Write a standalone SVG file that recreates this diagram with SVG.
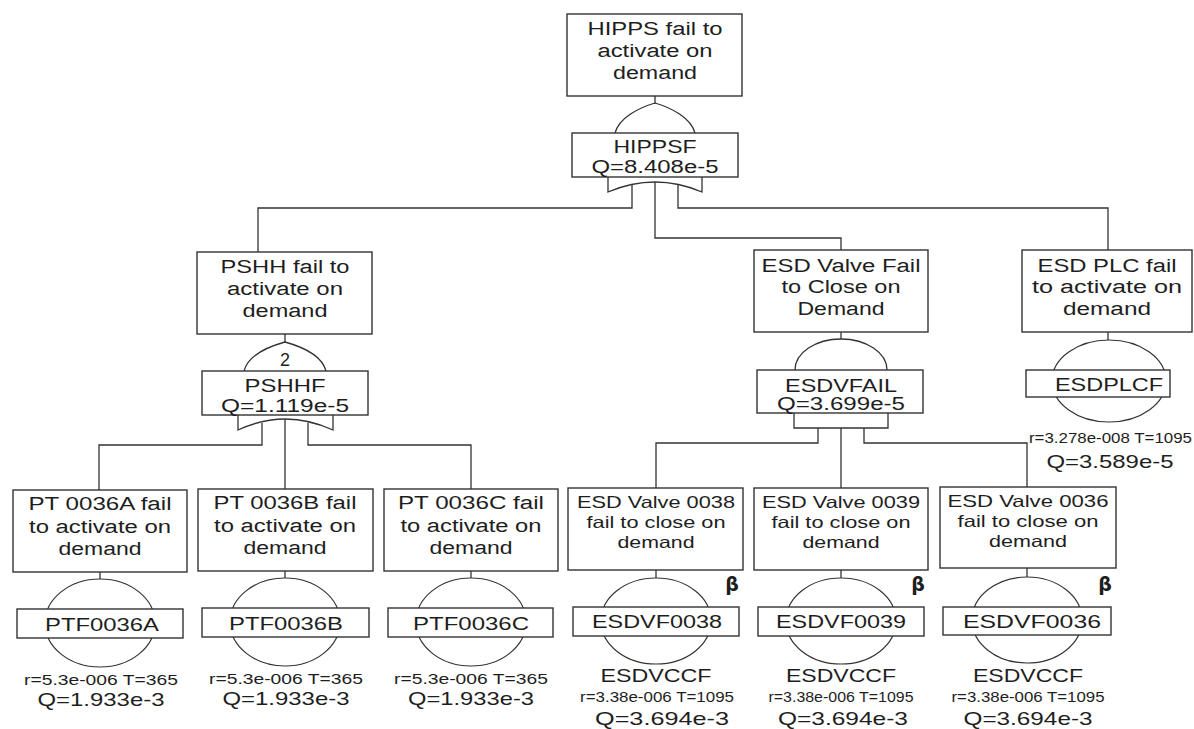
<svg xmlns="http://www.w3.org/2000/svg" width="1194" height="729" viewBox="0 0 1194 729">
<style>
  rect.b { fill: #fff; stroke: #333; stroke-width: 1.4; }
  ellipse.e { fill: #fff; stroke: #333; stroke-width: 1.2; }
  path.g { fill: none; stroke: #333; stroke-width: 1.3; }
  .c path, .c line { fill: none; stroke: #333; stroke-width: 1.3; }
  text { font-family: "Liberation Sans", Arial, sans-serif; fill: #1e1e1e; text-anchor: middle; }
  .t { font-size: 18px; }
  .tv { font-size: 16.5px; }
  .s { font-size: 14px; }
  .q { font-size: 18.5px; }
  .beta { font-size: 19px; font-weight: bold; font-family: "DejaVu Sans", sans-serif; }
</style>
<rect width="1194" height="729" fill="#fff"/>

<g class="c" id="connectors">
  <line x1="655" y1="96" x2="655" y2="104"/>
  <path d="M632,185 V208 H258 V252"/>
  <path d="M655,182 V238 H841 V250"/>
  <path d="M678,185 V208 H1108 V250"/>
  <line x1="285" y1="334" x2="285" y2="342"/>
  <path d="M262,423 V445 H99 V490"/>
  <path d="M285,419 V489"/>
  <path d="M308,423 V445 H471 V489"/>
  <line x1="841" y1="332" x2="841" y2="339"/>
  <path d="M818,428 V443 H656 V488"/>
  <path d="M841,428 V488"/>
  <path d="M864,428 V443 H1027 V487"/>
  <line x1="1108" y1="332" x2="1108" y2="340"/>
  <line x1="100" y1="572" x2="100" y2="579"/>
  <line x1="285" y1="571" x2="285" y2="578"/>
  <line x1="471" y1="571" x2="471" y2="578"/>
  <line x1="656" y1="570" x2="656" y2="578"/>
  <line x1="841" y1="570" x2="841" y2="578"/>
  <line x1="1027" y1="568" x2="1027" y2="578"/>
</g>

<g id="top">
  <rect class="b" x="567" y="14" width="175" height="82"/>
  <text class="t" x="655" y="35" textLength="135" lengthAdjust="spacingAndGlyphs">HIPPS fail to</text>
  <text class="t" x="655" y="57" textLength="115" lengthAdjust="spacingAndGlyphs">activate on</text>
  <text class="t" x="655" y="79" textLength="84" lengthAdjust="spacingAndGlyphs">demand</text>
</g>

<g id="HIPPSF">
  <path class="g" d="M615,133 C619,118 638,108 655,103 C672,108 691,118 695,133"/>
  <path class="g" d="M608,177 V192 Q655,172 702,192 V177"/>
  <rect class="b" x="572" y="133" width="166" height="44"/>
  <text class="t" x="655" y="153" textLength="83" lengthAdjust="spacingAndGlyphs">HIPPSF</text>
  <text class="t" x="655" y="173" textLength="127" lengthAdjust="spacingAndGlyphs">Q=8.408e-5</text>
</g>

<g id="PSHH">
  <rect class="b" x="197" y="252" width="175" height="82"/>
  <text class="t" x="285" y="273" textLength="129" lengthAdjust="spacingAndGlyphs">PSHH fail to</text>
  <text class="t" x="285" y="295" textLength="116" lengthAdjust="spacingAndGlyphs">activate on</text>
  <text class="t" x="285" y="317" textLength="85" lengthAdjust="spacingAndGlyphs">demand</text>
</g>

<g id="PSHHF">
  <path class="g" d="M244,371 C248,356 267,347 285,342 C303,347 322,356 326,371"/>
  <text class="t" x="285" y="366">2</text>
  <path class="g" d="M238,415 V430 Q285,408 333,430 V415"/>
  <rect class="b" x="202" y="371" width="166" height="44"/>
  <text class="t" x="285" y="392" textLength="81" lengthAdjust="spacingAndGlyphs">PSHHF</text>
  <text class="t" x="285" y="412" textLength="128" lengthAdjust="spacingAndGlyphs">Q=1.119e-5</text>
</g>

<g id="ESDV">
  <rect class="b" x="754" y="250" width="174" height="82"/>
  <text class="t" x="841" y="272" textLength="159" lengthAdjust="spacingAndGlyphs">ESD Valve Fail</text>
  <text class="t" x="841" y="293" textLength="119" lengthAdjust="spacingAndGlyphs">to Close on</text>
  <text class="t" x="841" y="315" textLength="87" lengthAdjust="spacingAndGlyphs">Demand</text>
</g>

<g id="ESDVFAIL">
  <path class="g" d="M795,370 A46,31 0 0 1 887,370"/>
  <path class="g" d="M794,413 V428 H888 V413"/>
  <rect class="b" x="757" y="370" width="166" height="43"/>
  <text class="t" x="841" y="392" textLength="112" lengthAdjust="spacingAndGlyphs">ESDVFAIL</text>
  <text class="t" x="841" y="410" textLength="128" lengthAdjust="spacingAndGlyphs">Q=3.699e-5</text>
</g>

<g id="ESDPLC">
  <rect class="b" x="1022" y="250" width="170" height="82"/>
  <text class="t" x="1107" y="272" textLength="139" lengthAdjust="spacingAndGlyphs">ESD PLC fail</text>
  <text class="t" x="1107" y="293" textLength="150" lengthAdjust="spacingAndGlyphs">to activate on</text>
  <text class="t" x="1107" y="315" textLength="88" lengthAdjust="spacingAndGlyphs">demand</text>
</g>

<g id="ESDPLCF">
  <ellipse class="e" cx="1109" cy="381" rx="57" ry="41"/>
  <rect class="b" x="1026" y="370" width="144" height="27"/>
  <text class="t" x="1109" y="391" textLength="108" lengthAdjust="spacingAndGlyphs">ESDPLCF</text>
  <text class="s" x="1029" y="443" style="text-anchor:start" textLength="163" lengthAdjust="spacingAndGlyphs">r=3.278e-008 T=1095</text>
  <text class="q" x="1110" y="468" textLength="127" lengthAdjust="spacingAndGlyphs">Q=3.589e-5</text>
</g>

<g id="PT0036A">
  <rect class="b" x="13" y="490" width="174" height="82"/>
  <text class="t" x="100" y="510" textLength="143" lengthAdjust="spacingAndGlyphs">PT 0036A fail</text>
  <text class="t" x="100" y="533" textLength="142" lengthAdjust="spacingAndGlyphs">to activate on</text>
  <text class="t" x="100" y="555" textLength="83" lengthAdjust="spacingAndGlyphs">demand</text>
</g>
<g id="PTF0036A">
  <ellipse class="e" cx="100" cy="623" rx="55" ry="44"/>
  <rect class="b" x="17" y="609" width="166" height="29"/>
  <text class="t" x="102" y="631" textLength="114" lengthAdjust="spacingAndGlyphs">PTF0036A</text>
  <text class="s" x="101" y="685" textLength="154" lengthAdjust="spacingAndGlyphs">r=5.3e-006 T=365</text>
  <text class="q" x="101" y="706" textLength="127" lengthAdjust="spacingAndGlyphs">Q=1.933e-3</text>
</g>

<g id="PT0036B">
  <rect class="b" x="198" y="489" width="175" height="82"/>
  <text class="t" x="285" y="509" textLength="143" lengthAdjust="spacingAndGlyphs">PT 0036B fail</text>
  <text class="t" x="285" y="532" textLength="142" lengthAdjust="spacingAndGlyphs">to activate on</text>
  <text class="t" x="285" y="554" textLength="83" lengthAdjust="spacingAndGlyphs">demand</text>
</g>
<g id="PTF0036B">
  <ellipse class="e" cx="285" cy="622" rx="55" ry="44"/>
  <rect class="b" x="202" y="608" width="167" height="29"/>
  <text class="t" x="286" y="630" textLength="114" lengthAdjust="spacingAndGlyphs">PTF0036B</text>
  <text class="s" x="286" y="684" textLength="154" lengthAdjust="spacingAndGlyphs">r=5.3e-006 T=365</text>
  <text class="q" x="286" y="705" textLength="127" lengthAdjust="spacingAndGlyphs">Q=1.933e-3</text>
</g>

<g id="PT0036C">
  <rect class="b" x="384" y="489" width="174" height="82"/>
  <text class="t" x="471" y="509" textLength="146" lengthAdjust="spacingAndGlyphs">PT 0036C fail</text>
  <text class="t" x="471" y="532" textLength="141" lengthAdjust="spacingAndGlyphs">to activate on</text>
  <text class="t" x="471" y="554" textLength="83" lengthAdjust="spacingAndGlyphs">demand</text>
</g>
<g id="PTF0036C">
  <ellipse class="e" cx="471" cy="622" rx="55" ry="44"/>
  <rect class="b" x="388" y="608" width="165" height="29"/>
  <text class="t" x="471" y="630" textLength="116" lengthAdjust="spacingAndGlyphs">PTF0036C</text>
  <text class="s" x="471" y="684" textLength="154" lengthAdjust="spacingAndGlyphs">r=5.3e-006 T=365</text>
  <text class="q" x="471" y="705" textLength="126" lengthAdjust="spacingAndGlyphs">Q=1.933e-3</text>
</g>

<g id="ESDV0038">
  <rect class="b" x="568" y="488" width="175" height="82"/>
  <text class="tv" x="656" y="508" textLength="158" lengthAdjust="spacingAndGlyphs">ESD Valve 0038</text>
  <text class="tv" x="656" y="528" textLength="139" lengthAdjust="spacingAndGlyphs">fail to close on</text>
  <text class="tv" x="656" y="548" textLength="77" lengthAdjust="spacingAndGlyphs">demand</text>
</g>
<g id="ESDVF0038">
  <ellipse class="e" cx="656" cy="621" rx="55" ry="43"/>
  <rect class="b" x="573" y="607" width="166" height="29"/>
  <text class="beta" x="732" y="591">β</text>
  <text class="t" x="657" y="628" textLength="130" lengthAdjust="spacingAndGlyphs">ESDVF0038</text>
  <text class="t" x="656" y="682" textLength="111" lengthAdjust="spacingAndGlyphs">ESDVCCF</text>
  <text class="s" x="657" y="702" textLength="154" lengthAdjust="spacingAndGlyphs">r=3.38e-006 T=1095</text>
  <text class="q" x="662" y="725" textLength="134" lengthAdjust="spacingAndGlyphs">Q=3.694e-3</text>
</g>

<g id="ESDV0039">
  <rect class="b" x="754" y="488" width="174" height="82"/>
  <text class="tv" x="841" y="508" textLength="158" lengthAdjust="spacingAndGlyphs">ESD Valve 0039</text>
  <text class="tv" x="841" y="528" textLength="139" lengthAdjust="spacingAndGlyphs">fail to close on</text>
  <text class="tv" x="841" y="548" textLength="77" lengthAdjust="spacingAndGlyphs">demand</text>
</g>
<g id="ESDVF0039">
  <ellipse class="e" cx="841" cy="621" rx="55" ry="43"/>
  <rect class="b" x="758" y="607" width="166" height="29"/>
  <text class="beta" x="918" y="591">β</text>
  <text class="t" x="841" y="628" textLength="130" lengthAdjust="spacingAndGlyphs">ESDVF0039</text>
  <text class="t" x="841" y="682" textLength="110" lengthAdjust="spacingAndGlyphs">ESDVCCF</text>
  <text class="s" x="841" y="702" textLength="145" lengthAdjust="spacingAndGlyphs">r=3.38e-006 T=1095</text>
  <text class="q" x="843" y="725" textLength="130" lengthAdjust="spacingAndGlyphs">Q=3.694e-3</text>
</g>

<g id="ESDV0036">
  <rect class="b" x="940" y="487" width="176" height="81"/>
  <text class="tv" x="1028" y="507" textLength="161" lengthAdjust="spacingAndGlyphs">ESD Valve 0036</text>
  <text class="tv" x="1028" y="527" textLength="141" lengthAdjust="spacingAndGlyphs">fail to close on</text>
  <text class="tv" x="1028" y="547" textLength="78" lengthAdjust="spacingAndGlyphs">demand</text>
</g>
<g id="ESDVF0036">
  <ellipse class="e" cx="1027" cy="620" rx="55" ry="43"/>
  <rect class="b" x="943" y="607" width="168" height="28"/>
  <text class="beta" x="1105" y="591">β</text>
  <text class="t" x="1032" y="628" textLength="138" lengthAdjust="spacingAndGlyphs">ESDVF0036</text>
  <text class="t" x="1028" y="682" textLength="110" lengthAdjust="spacingAndGlyphs">ESDVCCF</text>
  <text class="s" x="1028" y="702" textLength="153" lengthAdjust="spacingAndGlyphs">r=3.38e-006 T=1095</text>
  <text class="q" x="1028" y="725" textLength="129" lengthAdjust="spacingAndGlyphs">Q=3.694e-3</text>
</g>
</svg>
